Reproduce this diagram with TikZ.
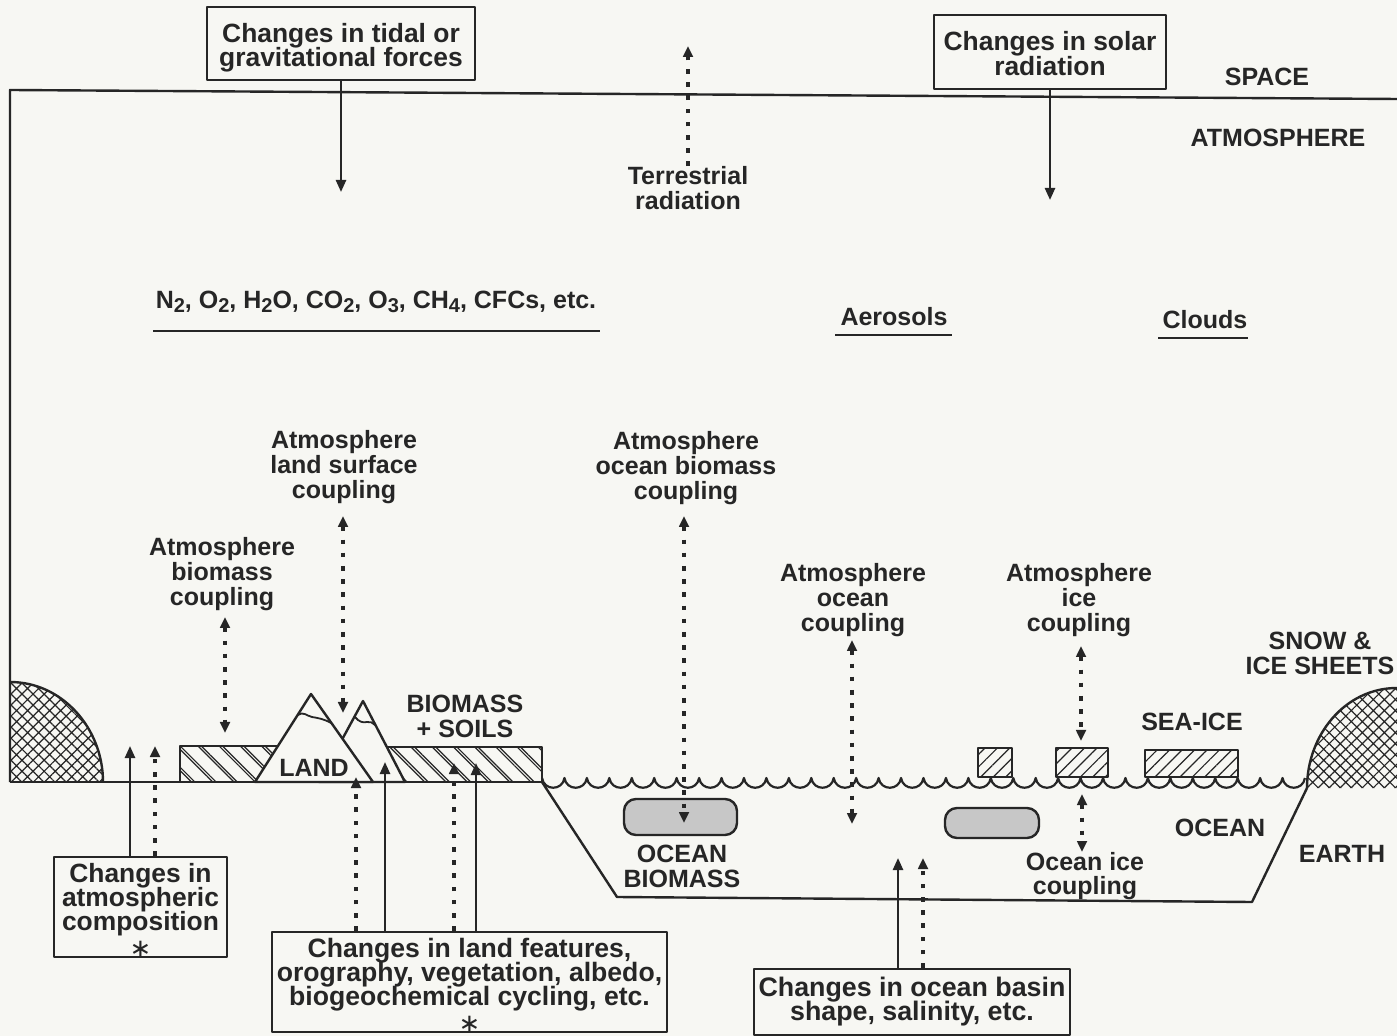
\documentclass[tikz,border=0pt]{standalone}
\usepackage{fontspec}
\setmainfont{Liberation Sans}
\newfontfamily\djv{DejaVu Sans}
\usetikzlibrary{arrows.meta,patterns.meta}
\definecolor{bg}{RGB}{247,247,243}
\definecolor{ink}{RGB}{38,38,38}
\newcommand{\sbs}[1]{\raisebox{-0.35ex}{\fontsize{10}{10}\selectfont #1}}
\newcommand{\astk}{{\djv\mdseries\fontsize{13}{12}\selectfont ∗}}
\lineskiplimit=-100pt
\begin{document}
\begin{tikzpicture}[x=0.5pt,y=-0.5pt,line join=round,
  lbl/.style={font=\fontsize{12.5}{12.4}\selectfont\bfseries,align=center,inner sep=0pt,text=ink},
  boxtxt/.style={draw=ink,line width=1pt,font=\fontsize{13.2}{12.2}\selectfont\bfseries,align=center,inner sep=0pt,text=ink},
  frame/.style={draw=ink,line width=1.2pt},
  solidarr/.style={draw=ink,line width=1.2pt,-{Triangle[length=6pt,width=5pt]}},
  dotarr/.style={draw=ink,line width=1.6pt,dash pattern=on 2.3pt off 4.3pt,-{Triangle[length=5.5pt,width=4.8pt]}},
  dotdbl/.style={draw=ink,line width=1.6pt,dash pattern=on 2.3pt off 4.3pt,{Triangle[length=5.5pt,width=4.8pt]}-{Triangle[length=5.5pt,width=4.8pt]}},
  landhatch/.style={pattern={Lines[angle=-45,distance=7.5pt,line width=0.6pt]},pattern color=ink},
  landhatchb/.style={pattern={Lines[angle=-45,distance=7.5pt,xshift=1.7pt,line width=0.6pt]},pattern color=ink},
  icehatch/.style={pattern={Lines[angle=45,distance=4.4pt,line width=0.6pt]},pattern color=ink},
  snowhatch/.style={pattern={Hatch[angle=45,distance=3.9pt,line width=0.6pt]},pattern color=ink},
  ulin/.style={draw=ink,line width=1.3pt}]
\useasboundingbox (0,0) rectangle (1397,1036);
\fill[bg] (0,0) rectangle (1397,1036);

% frame and ground
\draw[frame] (10,782) -- (10,90) -- (1397,99);
\draw[frame] (10,782) -- (542,782);
\draw[frame] (542,782) -- (617,897) -- (1252,902) -- (1307,788);
\draw[ink,line width=1.1pt] (542,778)
  \foreach \n [evaluate=\n as \xa using 542+\n*22.44, evaluate=\n as \xb using 542+(\n+1)*22.44] in {0,...,33}
  { .. controls (\xa+2,791) and (\xb-2,791) .. (\xb,778) };

% snow and ice sheets
\fill[snowhatch] (10,682) .. controls (62,682) and (103,728) .. (103,782) -- (10,782) -- cycle;
\draw[frame] (10,682) .. controls (62,682) and (103,728) .. (103,782);
\fill[snowhatch] (1307,788) .. controls (1307,735) and (1345,688) .. (1397,688) -- (1397,788) -- cycle;
\draw[frame] (1307,788) .. controls (1307,735) and (1345,688) .. (1397,688);

% biomass + soils hatched strips
\fill[landhatch] (180,746) rectangle (290,782);
\fill[landhatchb] (180,746) rectangle (290,782);
\draw[frame] (290,746) -- (180,746) -- (180,782);
\fill[landhatch] (380,747) rectangle (542,782);
\fill[landhatchb] (380,747) rectangle (542,782);
\draw[frame] (380,747) -- (542,747) -- (542,782);

% mountains
\draw[frame,fill=bg] (319,782) -- (363,701) -- (405,782) -- cycle;
\draw[frame,fill=bg] (255,782) -- (311,694) -- (373,782) -- cycle;
\draw[ink,line width=0.9pt] (298,715) .. controls (303,711) and (307,716) .. (312,717) .. controls (318,718) and (324,719) .. (331,723);
\draw[ink,line width=0.9pt] (355,717) .. controls (359,722) and (363,723) .. (367,722) .. controls (370,721) and (373,723) .. (375,725);

% sea ice
\draw[frame,icehatch] (978,748) rectangle (1012,777);
\draw[frame,icehatch] (1056,748) rectangle (1108,777);
\draw[frame,icehatch] (1145,750) rectangle (1238,777);

% ocean biomass patches
\draw[frame,fill=black!22,rounded corners=6pt] (624,799) rectangle (737,835);
\draw[frame,fill=black!22,rounded corners=6pt] (945,808) rectangle (1039,838);

% boxes
\node[boxtxt,minimum width=134pt,minimum height=36.5pt] (tidal) at (341,43.5) {\rule{0pt}{14pt}Changes in tidal or\\gravitational forces};
\node[boxtxt,minimum width=116pt,minimum height=37pt] (solar) at (1050,52) {\rule{0pt}{11pt}Changes in solar\\radiation};
\node[boxtxt,minimum width=86.5pt,minimum height=50pt,font=\fontsize{13.2}{11.9}\selectfont\bfseries] (comp) at (140.5,907) {\rule{0pt}{13pt}Changes in\\atmospheric\\composition\\[1.5pt]\astk};
\node[boxtxt,minimum width=197.5pt,minimum height=50pt,font=\fontsize{13.3}{11.9}\selectfont\bfseries] (landf) at (469.5,982) {\rule{0pt}{13pt}Changes in land features,\\orography, vegetation, albedo,\\biogeochemical cycling, etc.\\[1.5pt]\astk};
\node[boxtxt,minimum width=158pt,minimum height=33pt,font=\fontsize{13.4}{12.2}\selectfont\bfseries] (basin) at (912,1001.5) {Changes in ocean basin\\shape, salinity, etc.};

% labels
\node[lbl] (space) at (1267,77) {SPACE};
\node[lbl] (atm) at (1278,138) {ATMOSPHERE};
\node[lbl] (terr) at (688,188) {Terrestrial\\radiation};
\node[lbl] (gases) at (376,302) {N\sbs{2}, O\sbs{2}, H\sbs{2}O, CO\sbs{2}, O\sbs{3}, CH\sbs{4}, CFCs, etc.};
\node[lbl] (aer) at (894,317) {Aerosols};
\node[lbl] (cld) at (1205,320) {Clouds};
\node[lbl] (alsc) at (344,467) {Atmosphere\\land surface\\coupling};
\node[lbl] (aobc) at (686,468) {Atmosphere\\ocean biomass\\coupling};
\node[lbl] (abc) at (222,574) {Atmosphere\\biomass\\coupling};
\node[lbl] (aoc) at (853,600) {Atmosphere\\ocean\\coupling};
\node[lbl] (aic) at (1079,600) {Atmosphere\\ice\\coupling};
\node[lbl] (snow) at (1320,653) {SNOW \&\\ICE SHEETS};
\node[lbl] (seaice) at (1192,722) {SEA-ICE};
\node[lbl] (bios) at (465,716) {BIOMASS\\+ SOILS};
\node[lbl] (land) at (314,768) {LAND};
\node[lbl] (obio) at (682,866) {OCEAN\\BIOMASS};
\node[lbl] (ocean) at (1220,828) {OCEAN};
\node[lbl] (earth) at (1342,854) {EARTH};
\node[lbl] (oic) at (1085,876) {Ocean ice\\coupling};

% underlines
\draw[ulin] (153,331) -- (600,331);
\draw[ulin] (835,335) -- (952,335);
\draw[ulin] (1158,338) -- (1248,338);

% coordinates for free arrow ends
\coordinate (tidaltip) at (341,192);
\coordinate (solartip) at (1050,200);
\coordinate (terrtip) at (688,46);
\coordinate (a1t) at (343,516); \coordinate (a1b) at (343,713);
\coordinate (a2t) at (225,617); \coordinate (a2b) at (225,733);
\coordinate (a3t) at (684,516); \coordinate (a3b) at (684,823);
\coordinate (a4t) at (852,640); \coordinate (a4b) at (852,824);
\coordinate (a5t) at (1081,646); \coordinate (a5b) at (1081,741);
\coordinate (a6t) at (1082,794); \coordinate (a6b) at (1082,852);
\coordinate (c1) at (130,746); \coordinate (c2) at (155,746);
\coordinate (l1) at (356,777); \coordinate (l2) at (385,762);
\coordinate (l3) at (454,763); \coordinate (l4) at (476,763);
\coordinate (o1) at (898,858); \coordinate (o2) at (923,858);

% arrows
\draw[solidarr] (tidal.south) -- (tidaltip);
\draw[solidarr] (solar.south) -- (solartip);
\draw[dotarr] (terr.north) -- (terrtip);
\draw[dotdbl] (a1t) -- (a1b);
\draw[dotdbl] (a2t) -- (a2b);
\draw[dotdbl] (a3t) -- (a3b);
\draw[dotdbl] (a4t) -- (a4b);
\draw[dotdbl] (a5t) -- (a5b);
\draw[dotdbl] (a6t) -- (a6b);
\draw[solidarr] (comp.north -| c1) -- (c1);
\draw[dotarr] (comp.north -| c2) -- (c2);
\draw[dotarr] (landf.north -| l1) -- (l1);
\draw[solidarr] (landf.north -| l2) -- (l2);
\draw[dotarr] (landf.north -| l3) -- (l3);
\draw[solidarr] (landf.north -| l4) -- (l4);
\draw[solidarr] (basin.north -| o1) -- (o1);
\draw[dotarr] (basin.north -| o2) -- (o2);
\end{tikzpicture}
\end{document}
